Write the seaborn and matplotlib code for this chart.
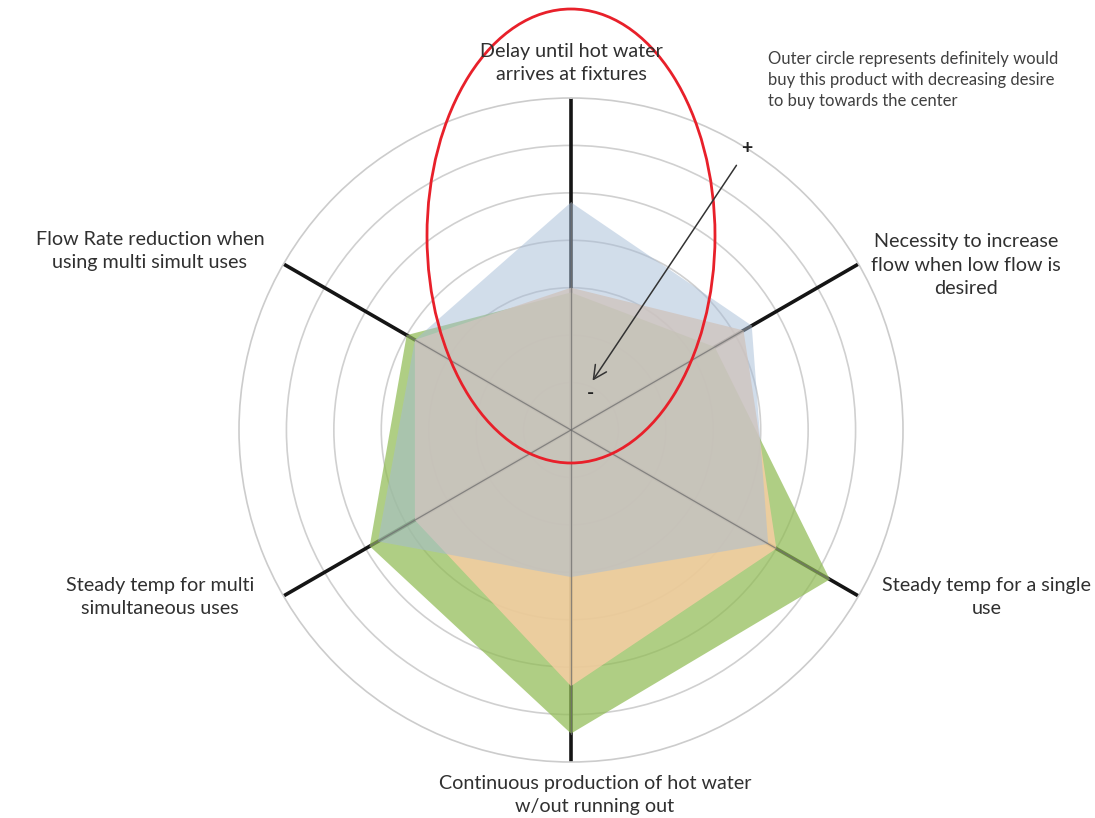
import numpy as np
import matplotlib
matplotlib.use('Agg')
import matplotlib.pyplot as plt
import seaborn as sns
from matplotlib.patches import Ellipse

# six survey criteria, clockwise from the top
categories = [
    'Delay until hot water\narrives at fixtures',
    'Necessity to increase\nflow when low flow is\ndesired',
    'Steady temp for a single\nuse',
    'Continuous production of hot water\nw/out running out',
    'Steady temp for multi\nsimultaneous uses',
    'Flow Rate reduction when\nusing multi simult uses',
]

# desire-to-buy scores (0 = centre, 7 = outer circle)
blue_scores = [4.8, 4.4, 4.8, 3.1, 4.7, 3.8]
orange_scores = [3.0, 4.2, 5.0, 5.4, 3.8, 3.8]
green_scores = [2.9, 3.5, 6.3, 6.4, 4.9, 4.0]
ring_levels = [1, 2, 3, 4, 5, 6, 7]

note_text = ('Outer circle represents definitely would\n'
             'buy this product with decreasing desire\n'
             'to buy towards the center')

W, H = 1095, 818

sns.set_theme(style='white')
plt.rcParams['font.family'] = ['Lato', 'DejaVu Sans']

fig = plt.figure(figsize=(W / 100, H / 100), dpi=100)
fig.patch.set_facecolor('white')

# polar panel placed so its centre / outer ring match the picture
cx, cy, R = 571, 430, 332
ax = fig.add_axes([(cx - R) / W, 1 - (cy + R) / H, 2 * R / W, 2 * R / H],
                  projection='polar')
ax.set_facecolor('none')
ax.set_theta_zero_location('N')
ax.set_theta_direction(-1)
ax.set_ylim(0, ring_levels[-1])

theta = np.linspace(0, 2 * np.pi, len(categories), endpoint=False)
ax.set_xticks(theta)
ax.set_xticklabels([])
ax.xaxis.grid(False)
ax.set_yticks(ring_levels[:-1])
ax.set_yticklabels([])
ax.yaxis.grid(True, color='#d0d0d0', linewidth=1.2)
ax.spines['polar'].set_color('#cccccc')
ax.spines['polar'].set_linewidth(1.2)
ax.tick_params(length=0)

# spokes: heavy black underneath the fills, thin grey over the filled part
reach = np.max([blue_scores, orange_scores, green_scores], axis=0)
for t, r in zip(theta, reach):
    ax.plot([t, t], [0, ring_levels[-1]], color='#151515', lw=2.6,
            solid_capstyle='butt', zorder=1)
    ax.plot([t, t], [0, r], color='#6e6e6e', lw=0.9,
            alpha=0.75, zorder=6)

closed_theta = np.append(theta, theta[0])
series = [
    (green_scores, (145 / 255, 188 / 255, 85 / 255), 0.72),
    (orange_scores, (251 / 255, 205 / 255, 165 / 255), 0.8),
    (blue_scores, (165 / 255, 188 / 255, 215 / 255), 0.5),
]
for z, (vals, col, a) in enumerate(series):
    ax.fill(closed_theta, vals + vals[:1], color=col, alpha=a, lw=0,
            zorder=2 + z)

# category labels, pixel centres
label_xy = [(571, 63), (966, 265), (987, 597), (595, 795), (160, 597), (150, 251)]
for text, (x, y) in zip(categories, label_xy):
    fig.text(x / W, 1 - y / H, text, ha='center', va='center',
             fontsize=14.2, color='#303030', linespacing=1.45)

# overlay in pixel coordinates for the hand-drawn annotations
over = fig.add_axes([0, 0, 1, 1])
over.set_xlim(0, W)
over.set_ylim(H, 0)
over.axis('off')
over.patch.set_alpha(0)

over.text(768, 80, note_text, ha='left', va='center', fontsize=12.0,
          color='#404040', linespacing=1.42)

over.add_patch(Ellipse((571, 236), 288, 454, fill=False,
                       edgecolor='#e8202a', linewidth=2.0))

over.annotate('', xy=(591, 383), xytext=(738, 163),
              arrowprops=dict(arrowstyle='->', color='#333333', lw=1.1,
                              mutation_scale=24))
over.text(747, 148, '+', ha='center', va='center', fontsize=14,
          fontweight='bold', color='#222222')
over.text(591, 393, '-', ha='center', va='center', fontsize=14,
          fontweight='bold', color='#222222')

fig.savefig('out.png', dpi=100, facecolor='white')
